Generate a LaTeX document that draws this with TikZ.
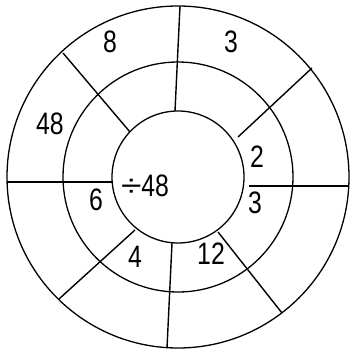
\documentclass[tikz,border=0pt]{standalone}
\usepackage{fontspec}
\setmainfont{Liberation Sans}
\begin{document}
\begin{tikzpicture}[x=1pt,y=-1pt,
  ring/.style={circle,draw,line width=1.3pt,inner sep=0pt},
  spoke/.style={line width=1.4pt},
  lbl/.style={font=\fontsize{31}{31}\selectfont,xscale=0.8,inner sep=0pt}]
\useasboundingbox (0,0) rectangle (352,355);
\coordinate (c) at (178,177);
\node[ring,minimum size=342pt] (outer) at (c) {};
\node[ring,minimum size=230pt] (middle) at (c) {};
\node[ring,minimum size=132pt] (inner) at (c) {};
% spoke ends
\coordinate (i1) at (175,111); \coordinate (o1) at (180,6);
\coordinate (i2) at (238,137); \coordinate (o2) at (312,68);
\coordinate (i3) at (249,186); \coordinate (o3) at (349,186);
\coordinate (i4) at (218,232); \coordinate (o4) at (282,313);
\coordinate (i5) at (172,243); \coordinate (o5) at (167,348);
\coordinate (i6) at (135,230); \coordinate (o6) at (59,299);
\coordinate (i7) at (112,182); \coordinate (o7) at (7,182);
\coordinate (i8) at (130,132); \coordinate (o8) at (63,53);
\foreach \k in {1,...,8} {\draw[spoke] (i\k) -- (o\k);}
% labels
\node[lbl] (l8) at (110,42) {8};
\node[lbl] (l3a) at (231,42) {3};
\node[lbl] (l48) at (50,124) {48};
\node[lbl] (l2) at (257,157) {2};
\node[lbl] (l3b) at (255,203) {3};
\node[lbl] (l6) at (96,200) {6};
\node[lbl] (lc) at (145,186) {\scalebox{1.5}[1]{÷}48};
\node[lbl] (l4) at (135,257) {4};
\node[lbl] (l12) at (211,254) {12};
\end{tikzpicture}
\end{document}
